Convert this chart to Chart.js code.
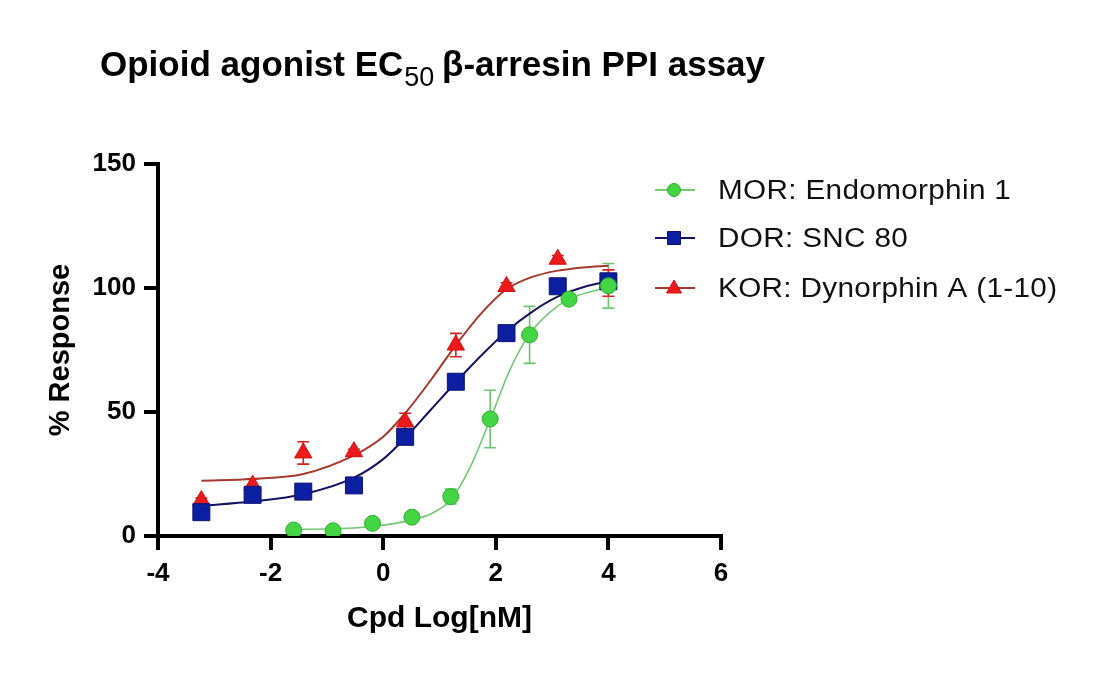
<!DOCTYPE html>
<html>
<head>
<meta charset="utf-8">
<title>Opioid agonist EC50 β-arresin PPI assay</title>
<script src="https://cdn.jsdelivr.net/npm/chart.js@4.4.1/dist/chart.umd.min.js"></script>
<style>
    html, body { margin: 0; padding: 0; background: #fff; }
    #chart-wrap { position: relative; width: 1110px; height: 684px; }
</style>
</head>
<body>
<div id="chart-wrap"><canvas id="ppi-chart"></canvas></div>
<script>
// values
const seriesLabels = ['MOR: Endomorphin 1', 'DOR: SNC 80', 'KOR: Dynorphin A (1-10)'];

const morLogDose = [-1.59, -0.89, -0.19, 0.51, 1.20, 1.90, 2.60, 3.30, 4.00];
const morResponse = [2.4, 2.1, 5.1, 7.6, 15.9, 47.2, 81.1, 95.5, 100.9];
const morError = [0.6, 0.6, 0.8, 1.0, 3.0, 11.6, 11.5, 1.5, 9.0];

const dorLogDose = [-3.23, -2.32, -1.42, -0.52, 0.39, 1.29, 2.19, 3.10, 4.00];
const dorResponse = [9.6, 16.6, 17.9, 20.4, 40.0, 62.2, 81.8, 100.7, 102.7];
const dorError = [1.0, 1.5, 1.0, 1.5, 2.0, 2.0, 1.5, 1.5, 2.0];

const korLogDose = [-3.23, -2.32, -1.42, -0.52, 0.39, 1.29, 2.19, 3.10, 4.00];
const korResponse = [14.3, 20.5, 33.5, 34.0, 46.0, 77.0, 100.6, 111.6, 102.0];
const korError = [1.0, 2.5, 4.5, 1.0, 3.5, 4.7, 1.5, 1.5, 5.3];

// fitted curves
const morFitX = [-1.59, -0.89, -0.19, 0.51, 0.85, 1.20, 1.55, 1.90, 2.25, 2.60, 2.95, 3.30, 3.65, 4.00];
const morFitY = [2.7, 2.9, 3.8, 6.5, 9.0, 14.6, 28.0, 47.0, 67.0, 81.5, 90.0, 95.5, 98.3, 100.0];
const dorFitX = [-3.23, -2.32, -1.42, -0.52, 0.00, 0.39, 0.85, 1.29, 1.75, 2.19, 2.65, 3.10, 3.55, 4.00];
const dorFitY = [12.2, 13.9, 16.8, 23.5, 31.0, 39.5, 51.0, 62.0, 73.0, 82.5, 90.5, 96.5, 100.3, 102.8];
const korFitX = [-3.23, -2.32, -1.42, -0.52, 0.00, 0.39, 0.85, 1.29, 1.75, 2.19, 2.65, 3.10, 3.55, 4.00];
const korFitY = [22.3, 23.0, 25.0, 32.5, 40.0, 49.5, 63.0, 77.0, 90.0, 99.5, 104.5, 107.0, 108.3, 109.0];

const xTicks = [-4, -2, 0, 2, 4, 6];
const yTicks = [0, 50, 100, 150];

const FONT = '"Liberation Sans", Arial, sans-serif';
const COLORS = {
    mor: { fill: '#44d544', border: '#2fae2f', curve: '#72c872', error: '#6cc66c' },
    dor: { fill: '#0c1fa0', border: '#0a1370', curve: '#12125e', error: '#1a2a9a' },
    kor: { fill: '#ec1a1a', border: '#d01010', curve: '#a53a2c', error: '#d8231f' }
};

const toPoints = (xs, ys) => xs.map((x, i) => ({ x, y: ys[i] }));

const subscriptTitle = {
    id: 'subscriptTitle',
    afterDraw(chart) {
        const ctx = chart.ctx;
        ctx.save();
        ctx.fillStyle = '#000';
        ctx.textAlign = 'left';
        ctx.textBaseline = 'alphabetic';
        let x = 100;
        const y = 76;
        ctx.font = `bold 35px ${FONT}`;
        ctx.fillText('Opioid agonist EC', x, y);
        x += ctx.measureText('Opioid agonist EC').width + 1;
        ctx.font = `27px ${FONT}`;
        ctx.fillText('50', x, y + 10);
        x += ctx.measureText('50').width;
        ctx.font = `bold 35px ${FONT}`;
        ctx.fillText(' β-arresin PPI assay', x - 2, y);
        ctx.restore();
    }
};

const errorBars = {
    id: 'errorBars',
    beforeDatasetsDraw(chart) {
        const ctx = chart.ctx;
        const xScale = chart.scales.x;
        const yScale = chart.scales.y;
        ctx.save();
        chart.data.datasets.forEach(ds => {
            if (!ds.errorBars) {
                return;
            }
            ctx.strokeStyle = ds.errorColor;
            ctx.lineWidth = 1.6;
            ds.data.forEach((pt, j) => {
                const err = ds.errorBars[j];
                const px = xScale.getPixelForValue(pt.x);
                const top = yScale.getPixelForValue(pt.y + err);
                const bottom = yScale.getPixelForValue(pt.y - err);
                ctx.beginPath();
                ctx.moveTo(px, top);
                ctx.lineTo(px, bottom);
                ctx.moveTo(px - 6, top);
                ctx.lineTo(px + 6, top);
                ctx.moveTo(px - 6, bottom);
                ctx.lineTo(px + 6, bottom);
                ctx.stroke();
            });
        });
        ctx.restore();
    }
};

const sideLegend = {
    id: 'sideLegend',
    afterDraw(chart) {
        const ctx = chart.ctx;
        const rows = [
            { label: seriesLabels[0], style: 'circle', c: COLORS.mor, y: 190 },
            { label: seriesLabels[1], style: 'rect', c: COLORS.dor, y: 238 },
            { label: seriesLabels[2], style: 'triangle', c: COLORS.kor, y: 288 }
        ];
        ctx.save();
        rows.forEach(row => {
            const cx = 674;
            ctx.strokeStyle = row.c.curve;
            ctx.lineWidth = 2;
            ctx.beginPath();
            ctx.moveTo(655, row.y);
            ctx.lineTo(695, row.y);
            ctx.stroke();

            ctx.fillStyle = row.c.fill;
            ctx.strokeStyle = row.c.border;
            ctx.lineWidth = 1;
            ctx.beginPath();
            if (row.style === 'circle') {
                ctx.arc(cx, row.y, 6.5, 0, Math.PI * 2);
            } else if (row.style === 'rect') {
                ctx.rect(cx - 6.5, row.y - 6.5, 13, 13);
            } else {
                ctx.moveTo(cx, row.y - 8);
                ctx.lineTo(cx + 7.5, row.y + 5);
                ctx.lineTo(cx - 7.5, row.y + 5);
                ctx.closePath();
            }
            ctx.fill();
            ctx.stroke();

            // the reference text is a little wider than the font, stretch it
            ctx.save();
            ctx.translate(718, row.y + 9);
            ctx.scale(1.1, 1);
            ctx.fillStyle = '#111';
            ctx.font = `27px ${FONT}`;
            ctx.letterSpacing = '0.3px';
            ctx.textAlign = 'left';
            ctx.textBaseline = 'alphabetic';
            ctx.fillText(row.label, 0, 0);
            ctx.restore();
        });
        ctx.restore();
    }
};

function pointSeries(label, xs, ys, errs, style, radius, c, order) {
    return {
        label,
        data: toPoints(xs, ys),
        showLine: false,
        pointStyle: style,
        pointRadius: radius,
        pointBackgroundColor: c.fill,
        pointBorderColor: c.border,
        pointBorderWidth: 1,
        errorBars: errs,
        errorColor: c.error,
        order
    };
}

function fitSeries(xs, ys, c, width, order) {
    return {
        label: 'fit',
        data: toPoints(xs, ys),
        showLine: true,
        pointRadius: 0,
        borderColor: c.curve,
        borderWidth: width,
        cubicInterpolationMode: 'monotone',
        order
    };
}

const axisGrid = {
    drawOnChartArea: false,
    drawTicks: true,
    tickLength: 14,
    lineWidth: 4,
    color: '#000'
};

new Chart(document.getElementById('ppi-chart'), {
    type: 'scatter',
    data: {
        datasets: [
            pointSeries(seriesLabels[0], morLogDose, morResponse, morError, 'circle', 8, COLORS.mor, 0),
            pointSeries(seriesLabels[1], dorLogDose, dorResponse, dorError, 'rect', 12, COLORS.dor, 1),
            pointSeries(seriesLabels[2], korLogDose, korResponse, korError, 'triangle', 10, COLORS.kor, 2),
            fitSeries(morFitX, morFitY, COLORS.mor, 1.6, 3),
            fitSeries(dorFitX, dorFitY, COLORS.dor, 2, 4),
            fitSeries(korFitX, korFitY, COLORS.kor, 2, 5)
        ]
    },
    options: {
        responsive: true,
        maintainAspectRatio: false,
        animation: false,
        layout: { padding: { top: 164, right: 389, left: 0, bottom: 0 } },
        plugins: {
            legend: { display: false },
            tooltip: { enabled: false }
        },
        scales: {
            x: {
                type: 'linear',
                min: xTicks[0],
                max: xTicks[xTicks.length - 1],
                afterBuildTicks: scale => { scale.ticks = xTicks.map(value => ({ value })); },
                afterFit: scale => { scale.height = 148; },
                grid: axisGrid,
                border: { display: true, width: 4, color: '#000' },
                ticks: { color: '#000', padding: 8, maxRotation: 0, font: { family: FONT, size: 26, weight: 'bold' } },
                title: {
                    display: true,
                    text: 'Cpd Log[nM]',
                    color: '#000',
                    font: { family: FONT, size: 30, weight: 'bold' },
                    padding: { top: 0, bottom: 47 }
                }
            },
            y: {
                type: 'linear',
                min: yTicks[0],
                max: yTicks[yTicks.length - 1],
                afterBuildTicks: scale => { scale.ticks = yTicks.map(value => ({ value })); },
                afterFit: scale => { scale.width = 158; },
                grid: axisGrid,
                border: { display: true, width: 4, color: '#000' },
                ticks: { color: '#000', padding: 8, font: { family: FONT, size: 26, weight: 'bold' } },
                title: {
                    display: true,
                    text: '% Response',
                    color: '#000',
                    font: { family: FONT, size: 29, weight: 'bold' },
                    padding: { top: 44, bottom: 0 }
                }
            }
        }
    },
    plugins: [errorBars, subscriptTitle, sideLegend]
});
</script>
</body>
</html>
